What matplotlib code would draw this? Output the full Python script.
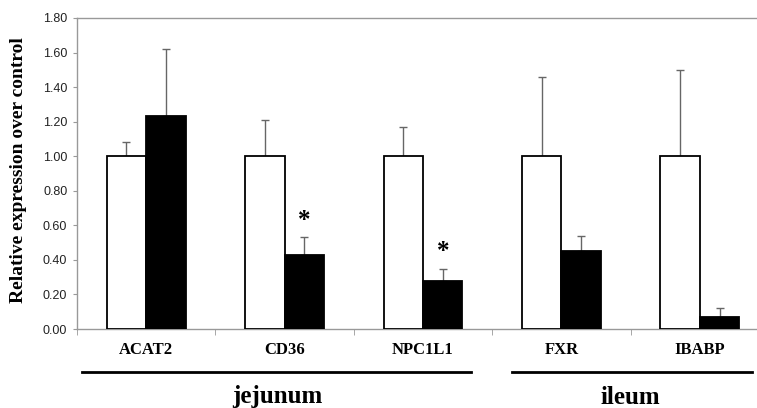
import numpy as np
import matplotlib
matplotlib.use("Agg")
import matplotlib.pyplot as plt

genes = ["ACAT2", "CD36", "NPC1L1", "FXR", "IBABP"]
control = [1.00, 1.00, 1.00, 1.00, 1.00]
control_err = [0.08, 0.21, 0.17, 0.46, 0.50]
treated = [1.23, 0.43, 0.28, 0.45, 0.07]
treated_err = [0.39, 0.10, 0.07, 0.09, 0.05]
significant = [False, True, True, False, False]
yticks = [0.0, 0.2, 0.4, 0.6, 0.8, 1.0, 1.2, 1.4, 1.6, 1.8]

serif = "Liberation Serif"

fig = plt.figure(figsize=(7.57, 4.08), dpi=100)
ax = fig.add_axes([77 / 757, 79 / 408, 692 / 757, 311 / 408])

x = np.arange(len(genes))
w = 0.285
ax.bar(x - w / 2, control, w, color="white", edgecolor="black", linewidth=1.3, zorder=3)
ax.bar(x + w / 2, treated, w, color="black", edgecolor="black", linewidth=1.3, zorder=3)
ax.errorbar(x - w / 2, control, yerr=[np.zeros(5), control_err], fmt="none",
            ecolor="#666666", elinewidth=1, capsize=3, capthick=1, zorder=2)
ax.errorbar(x + w / 2, treated, yerr=[np.zeros(5), treated_err], fmt="none",
            ecolor="#666666", elinewidth=1, capsize=3, capthick=1, zorder=2)

for i, sig in enumerate(significant):
    if sig:
        ax.text(x[i] + w / 2, treated[i] + treated_err[i] + 0.03, "*", ha="center", va="bottom",
                fontsize=18, fontweight="bold", family=serif)

ax.set_xlim(-0.5, 4.5)
ax.set_ylim(0, 1.8)
ax.set_yticks(yticks)
ax.set_yticklabels(["%.2f" % v for v in yticks], family="Liberation Sans", fontsize=9, color="#222222")
ax.set_xticks(x)
ax.set_xticklabels(genes, family=serif, fontweight="bold", fontsize=12)
ax.set_xticks(np.arange(-0.5, 5, 1), minor=True)
ax.tick_params(axis="x", which="major", length=0, pad=9)
ax.tick_params(axis="x", which="minor", length=4, color="#999999", direction="out")
ax.tick_params(axis="y", length=3, color="#999999", pad=4)
for s in ["left", "bottom", "top"]:
    ax.spines[s].set_color("#999999")
    ax.spines[s].set_linewidth(1)
ax.spines["right"].set_visible(False)

ax.set_ylabel("Relative expression over control", family=serif, fontweight="bold", fontsize=14)
ax.yaxis.set_label_coords(-0.072, 0.51)

# region brackets under the gene labels
fig.add_artist(plt.Line2D([82 / 757, 471 / 757], [1 - 372 / 408] * 2, color="black", linewidth=2))
fig.add_artist(plt.Line2D([512 / 757, 752 / 757], [1 - 372 / 408] * 2, color="black", linewidth=2))
fig.text(277 / 757, 1 - 397 / 408, "jejunum", ha="center", va="center", family=serif,
         fontweight="bold", fontsize=18)
fig.text(630 / 757, 1 - 397 / 408, "ileum", ha="center", va="center", family=serif,
         fontweight="bold", fontsize=18)

fig.savefig("out.png", dpi=100)
